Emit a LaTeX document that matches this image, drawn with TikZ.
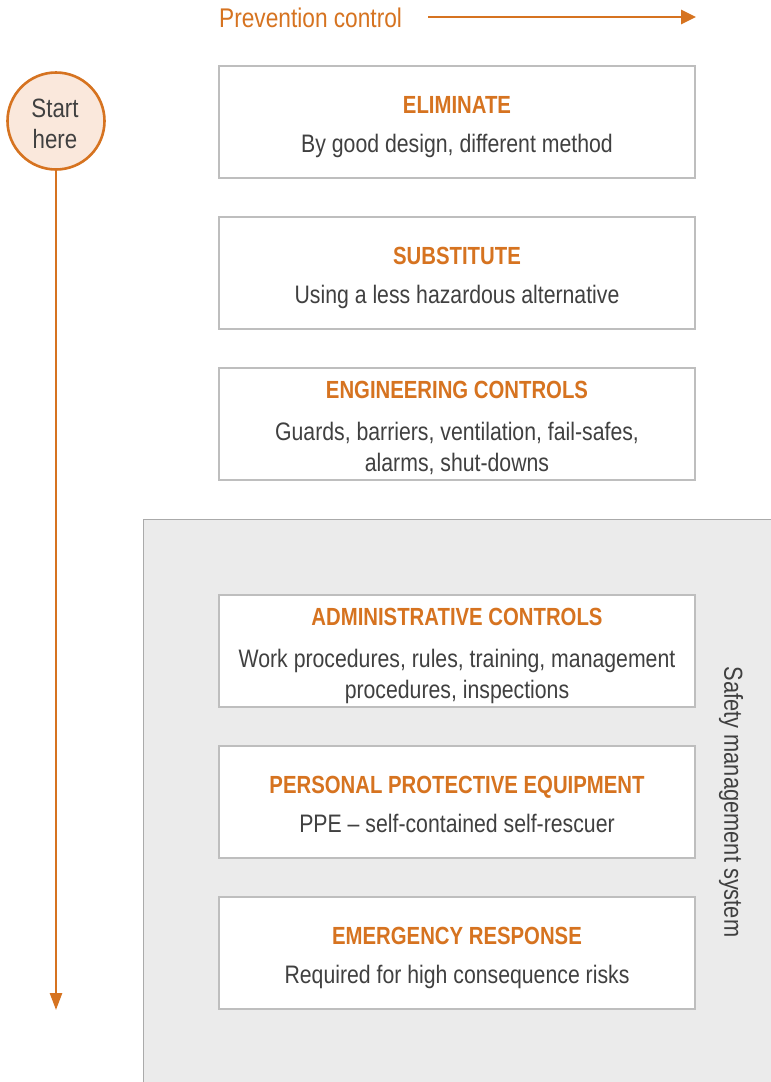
\documentclass[tikz,border=0pt]{standalone}
\usepackage{fontspec}
\setmainfont{Liberation Sans}
\newfontfamily\regfont{Liberation Sans}[FakeStretch=0.84]
\newfontfamily\boldfont{Liberation Sans Bold}[FakeStretch=0.82]
\usetikzlibrary{arrows.meta}
\definecolor{accent}{RGB}{214,115,32}
\definecolor{peach}{RGB}{250,232,220}
\definecolor{txtgray}{RGB}{64,64,64}
\definecolor{boxline}{RGB}{190,190,190}
\definecolor{panelfill}{RGB}{235,235,235}
\definecolor{panelline}{RGB}{170,170,170}
\tikzset{
  stepbox/.style={draw=boxline, line width=1.3pt, fill=white, rectangle, minimum width=476pt, minimum height=112pt, inner sep=0pt, outer sep=0pt, anchor=north west},
  panelbox/.style={draw=panelline, line width=1.2pt, fill=panelfill, rectangle, minimum width=628pt, minimum height=600pt, inner sep=0pt, outer sep=0pt, anchor=north west},
  ttl/.style={anchor=base, inner sep=0pt, text=accent, font=\boldfont\fontsize{24.8}{28}\selectfont},
  bdy/.style={anchor=base, inner sep=0pt, text=txtgray, font=\regfont\fontsize{25.3}{28}\selectfont},
  flowline/.style={draw=accent, line width=2.6pt},
}
\begin{document}
\begin{tikzpicture}[x=1pt,y=-1pt]
\useasboundingbox (0,0) rectangle (771,1082);
\clip (0,0) rectangle (771,1082);
\fill[white] (0,0) rectangle (771,1082);

% panel
\node[panelbox] (panel) at (143.5,519.5) {};
\node[anchor=center, rotate=-90, inner sep=0pt, text=txtgray, font=\regfont\fontsize{26}{28}\selectfont] (sms) at (731,802) {Safety management system};

% header
\node[anchor=base west, inner sep=0pt, text=accent, font=\regfont\fontsize{27}{30}\selectfont] (prev) at (219,27) {Prevention control};
\coordinate (pa) at (428,17);
\coordinate (pb) at (696,17);
\draw[flowline, -{Triangle[length=15pt,width=14pt]}] (pa) -- (pb);

% start circle
\node[circle, draw=accent, line width=2.6pt, fill=peach, minimum size=97pt, inner sep=0pt] (start) at (56,121) {};
\node[anchor=base, inner sep=0pt, text=txtgray, font=\regfont\fontsize{26.5}{28}\selectfont] (st1) at (55,117) {Start};
\node[anchor=base, inner sep=0pt, text=txtgray, font=\regfont\fontsize{26.5}{28}\selectfont] (st2) at (55,148) {here};
\coordinate (downend) at (56,1010);
\draw[flowline, -{Triangle[length=17pt,width=12pt]}] (start.south) -- (downend);

% boxes
\node[stepbox] (b1) at (219,66) {};
\node[ttl] (t1) at (457,113) {ELIMINATE};
\node[bdy] (d1) at (457,152) {By good design, different method};

\node[stepbox] (b2) at (219,217) {};
\node[ttl] (t2) at (457,264) {SUBSTITUTE};
\node[bdy] (d2) at (457,303) {Using a less hazardous alternative};

\node[stepbox] (b3) at (219,368) {};
\node[ttl] (t3) at (457,398) {ENGINEERING CONTROLS};
\node[bdy] (d3a) at (457,440) {Guards, barriers, ventilation, fail-safes,};
\node[bdy] (d3b) at (457,471) {alarms, shut-downs};

\node[stepbox] (b4) at (219,595) {};
\node[ttl] (t4) at (457,625) {ADMINISTRATIVE CONTROLS};
\node[bdy] (d4a) at (457,667) {Work procedures, rules, training, management};
\node[bdy] (d4b) at (457,698) {procedures, inspections};

\node[stepbox] (b5) at (219,746) {};
\node[ttl] (t5) at (457,793) {PERSONAL PROTECTIVE EQUIPMENT};
\node[bdy] (d5) at (457,832) {PPE – self-contained self-rescuer};

\node[stepbox] (b6) at (219,897) {};
\node[ttl] (t6) at (457,944) {EMERGENCY RESPONSE};
\node[bdy] (d6) at (457,983) {Required for high consequence risks};
\end{tikzpicture}
\end{document}
